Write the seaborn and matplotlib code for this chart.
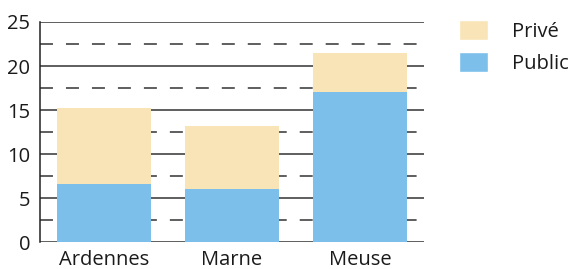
import matplotlib
matplotlib.use("Agg")
import matplotlib.pyplot as plt
from matplotlib.patches import Patch
from matplotlib.ticker import MultipleLocator
import seaborn as sns

# valeurs
departements = ["Ardennes", "Marne", "Meuse"]
public = [6.6, 6.0, 17.0]
prive = [8.6, 7.2, 4.5]
total = [a + b for a, b in zip(public, prive)]

couleur_prive = "#F8E4B6"
couleur_public = "#7BBFEA"

sns.set_style("white")
plt.rcParams["font.family"] = ["Open Sans", "DejaVu Sans"]

fig = plt.figure(figsize=(5.74, 2.69), dpi=100)
ax = fig.add_axes([40 / 574, 27 / 269, 384 / 574, 220 / 269])

# barres empilées : total (privé) puis public par-dessus
sns.barplot(x=departements, y=total, color=couleur_prive, width=0.727,
            saturation=1, linewidth=0, ax=ax, zorder=2)
sns.barplot(x=departements, y=public, color=couleur_public, width=0.727,
            saturation=1, linewidth=0, ax=ax, zorder=3)

ax.set_xlim(-0.5, 2.5)
ax.set_ylim(0, 25)
ax.yaxis.set_major_locator(MultipleLocator(5))
ax.yaxis.set_minor_locator(MultipleLocator(2.5))
ax.set_axisbelow(True)
ax.grid(which="major", axis="y", color="#333333", lw=1.1, zorder=0)
ax.grid(which="minor", axis="y", color="#333333", lw=1.1,
        dashes=(8.5, 8.5), zorder=0)
ax.grid(axis="x", visible=False)

for s in ["top", "right", "bottom"]:
    ax.spines[s].set_visible(False)
ax.spines["left"].set_color("#222222")
ax.spines["left"].set_linewidth(1.1)
ax.tick_params(which="both", length=0, labelsize=14.5, colors="#1a1a1a")
ax.tick_params(axis="y", pad=7)
ax.tick_params(axis="x", pad=6)

poignees = [Patch(facecolor=couleur_prive, label="Privé"),
            Patch(facecolor=couleur_public, label="Public")]
fig.legend(handles=poignees, loc="upper left",
           bbox_to_anchor=(459 / 574, 1 - 20 / 269), frameon=False,
           fontsize=14.5, borderpad=0, borderaxespad=0,
           handlelength=1.45, handleheight=1.15, labelspacing=0.5,
           handletextpad=1.2, labelcolor="#1a1a1a")

fig.savefig("out.png", dpi=100)
